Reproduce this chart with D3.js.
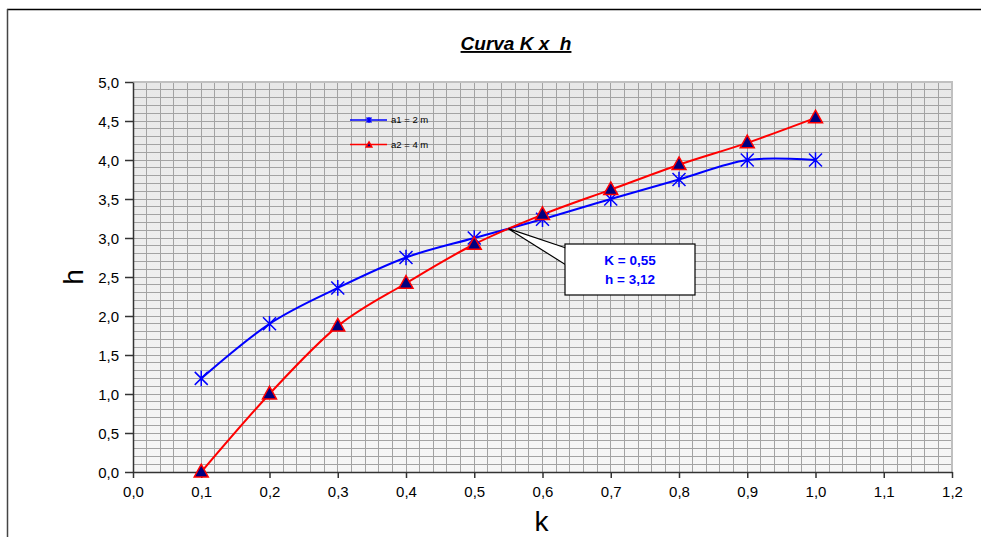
<!DOCTYPE html>
<html><head><meta charset="utf-8">
<script src="https://cdn.jsdelivr.net/npm/d3@7"></script>
<style>body{margin:0;background:#fff}svg{display:block}</style>
</head><body>
<svg id="c" width="981" height="537"></svg>
<script>
const kValues = [0.1,0.2,0.3,0.4,0.5,0.6,0.7,0.8,0.9,1.0];
const a1Values = [1.2,1.9,2.36,2.75,3.0,3.24,3.5,3.75,4.0,4.0];
const a2Values = [0.0,1.0,1.87,2.42,2.92,3.3,3.62,3.94,4.22,4.54];
const seriesNames = ["a1 = 2 m","a2 = 4 m"];
const xTicks = [0,0.1,0.2,0.3,0.4,0.5,0.6,0.7,0.8,0.9,1.0,1.1,1.2];
const yTicks = [0,0.5,1,1.5,2,2.5,3,3.5,4,4.5,5];
const intersection = {k:0.55, h:3.12};
const titleText = "Curva K x\u00a0 h";

const FONT = "Arial, 'Liberation Sans', sans-serif";
const svg = d3.select("#c");
const L=133, R=952, T=82, B=472;
const x = d3.scaleLinear().domain([0,1.2]).range([L,R]);
const y = d3.scaleLinear().domain([0,5]).range([B,T]);
const fmt = d => d3.format(".1f")(d).replace(".",",");

// outer frame
svg.append("line").attr("x1",7).attr("x2",981).attr("y1",9.5).attr("y2",9.5).attr("stroke","#000").attr("stroke-width",1.5);
svg.append("line").attr("x1",7.5).attr("x2",7.5).attr("y1",9).attr("y2",537).attr("stroke","#444").attr("stroke-width",1.5);

// background gradient
const defs = svg.append("defs");
const g = defs.append("linearGradient").attr("id","bg").attr("x1",0).attr("x2",0).attr("y1",0).attr("y2",1);
g.append("stop").attr("offset","0%").attr("stop-color","#e8e8e8");
g.append("stop").attr("offset","100%").attr("stop-color","#f6f6f6");
svg.append("rect").attr("x",L).attr("y",T).attr("width",R-L).attr("height",B-T).attr("fill","url(#bg)");

// grid
const grid = svg.append("g").attr("stroke","#a3a3a3").attr("stroke-width",1).attr("shape-rendering","crispEdges");
d3.range(0,61).forEach(i=>{const xv=x(i*0.02);grid.append("line").attr("x1",xv).attr("x2",xv).attr("y1",T).attr("y2",B);});
d3.range(0,51).forEach(i=>{const yv=y(i*0.1);grid.append("line").attr("x1",L).attr("x2",R).attr("y1",yv).attr("y2",yv);});
// plot border (top, right)
svg.append("path").attr("d",`M${L},${T}H${R}V${B}`).attr("fill","none").attr("stroke","#c0c0c0").attr("stroke-width",2);

// axes
const xAxis = d3.axisBottom(x).tickValues(xTicks).tickFormat(fmt).tickSize(6).tickSizeOuter(0);
const yAxis = d3.axisLeft(y).tickValues(yTicks).tickFormat(fmt).tickSize(8).tickSizeOuter(0);
const gx = svg.append("g").attr("transform",`translate(0,${B})`).call(xAxis);
const gy = svg.append("g").attr("transform",`translate(${L},0)`).call(yAxis);
[gx,gy].forEach(a=>{
  a.attr("font-family",FONT).attr("font-size",15);
  a.selectAll("path,line").attr("stroke","#333").attr("stroke-width",1.5);
  a.selectAll("text").attr("fill","#000");
});
gx.selectAll("text").attr("y",14).attr("dy","0.71em");
gy.selectAll("text").attr("x",-14).attr("dy","0.35em");

// axis titles
svg.append("text").attr("x",(L+R)/2-1).attr("y",531).attr("text-anchor","middle")
  .attr("font-family",FONT).attr("font-size",28).text("k");
svg.append("text").attr("transform",`translate(83,277) rotate(-90)`).attr("text-anchor","middle")
  .attr("font-family",FONT).attr("font-size",28).text("h");

// title
svg.append("text").attr("x",516).attr("y",50).attr("text-anchor","middle")
  .attr("font-family",FONT).attr("font-size",19).attr("font-weight","bold")
  .attr("font-style","italic").attr("text-decoration","underline").text(titleText);

// lines
const line = d3.line().curve(d3.curveCardinal.tension(0)).x(d=>x(d[0])).y(d=>y(d[1]));
const s1 = kValues.map((k,i)=>[k,a1Values[i]]);
const s2 = kValues.map((k,i)=>[k,a2Values[i]]);
svg.append("path").attr("d",line(s1)).attr("fill","none").attr("stroke","#0000ff").attr("stroke-width",2);
svg.append("path").attr("d",line(s2)).attr("fill","none").attr("stroke","#ff0000").attr("stroke-width",2);

function star(sel,cx,cy,r){
  const p = `M${cx-r},${cy-r}L${cx+r},${cy+r}M${cx-r},${cy+r}L${cx+r},${cy-r}M${cx},${cy-r*1.2}L${cx},${cy+r*1.2}`;
  sel.append("path").attr("d",p).attr("stroke","#0000ff").attr("stroke-width",1.5).attr("fill","none");
}
function tri(sel,cx,cy,r){
  const p = `M${cx},${cy-r*1.1}L${cx+r},${cy+r*0.7}L${cx-r},${cy+r*0.7}Z`;
  sel.append("path").attr("d",p).attr("fill","#000080").attr("stroke","#ff0000").attr("stroke-width",1.5).attr("stroke-linejoin","miter");
}
const m1 = svg.append("g"), m2 = svg.append("g");
s1.forEach(d=>star(m1,x(d[0]),y(d[1]),6.5));
s2.forEach(d=>tri(m2,x(d[0]),y(d[1]),7));

// legend
const lg = svg.append("g");
[[0,"#0000ff"],[1,"#ff0000"]].forEach(([i,c])=>{
  const ly = 120 + i*24.5;
  lg.append("line").attr("x1",350).attr("x2",387).attr("y1",ly).attr("y2",ly).attr("stroke",c).attr("stroke-width",1.5);
  if(i===0) star(lg,369,ly,2.5); else tri(lg,369,ly+0.5,2.8);
  lg.append("text").attr("x",391).attr("y",ly+3).attr("font-family",FONT)
    .attr("font-size",9.5).attr("fill","#000").text(seriesNames[i]);
});

// callout
const px = x(intersection.k), py = y(intersection.h);
const bx=565, by=244, bw=130, bh=51;
svg.append("path").attr("d",`M${bx+1},${by+4}L${px},${py}L${bx+1},${by+21}Z`).attr("fill","#fff").attr("stroke","#000").attr("stroke-width",1.2);
svg.append("rect").attr("x",bx).attr("y",by).attr("width",bw).attr("height",bh).attr("fill","#fff").attr("stroke","#000").attr("stroke-width",1.2);
svg.append("rect").attr("x",bx+0.8).attr("y",by+4.5).attr("width",2).attr("height",16).attr("fill","#fff");
const ct = svg.append("text").attr("text-anchor","middle").attr("font-family",FONT)
  .attr("font-size",13.5).attr("font-weight","bold").attr("fill","#0000ff");
ct.append("tspan").attr("x",bx+bw/2).attr("y",265).text("K = " + String(intersection.k).replace(".",","));
ct.append("tspan").attr("x",bx+bw/2).attr("y",284).text("h = " + String(intersection.h).replace(".",","));
</script>
</body></html>
